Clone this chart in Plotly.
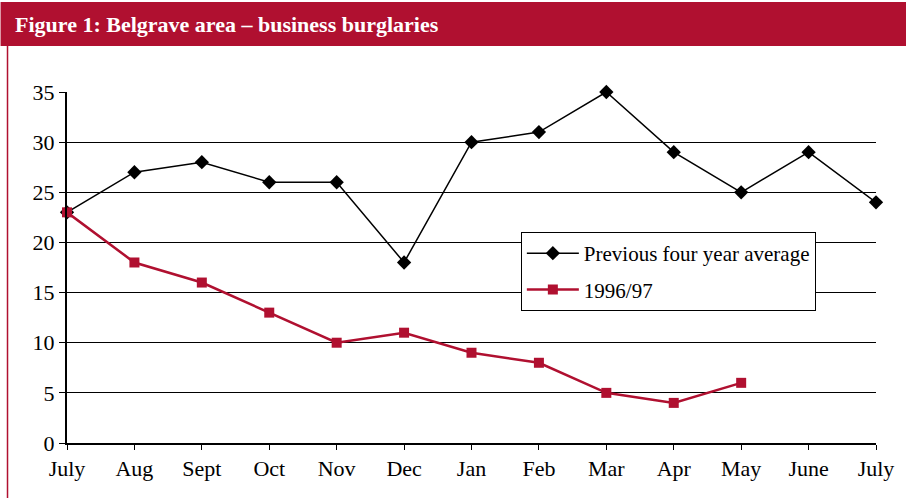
import plotly.graph_objects as go

months = ["July", "Aug", "Sept", "Oct", "Nov", "Dec", "Jan", "Feb", "Mar", "Apr", "May", "June", "July"]
prev_avg = [23, 27, 28, 26, 26, 18, 30, 31, 35, 29, 25, 29, 24]
y9697 = [23, 18, 16, 13, 10, 11, 9, 8, 5, 4, 6]
y_ticks = [0, 5, 10, 15, 20, 25, 30, 35]

RED = "#B01030"
FONT = "Liberation Serif"

xpos = list(range(len(months)))

fig = go.Figure()
fig.add_trace(go.Scatter(
    x=xpos, y=prev_avg, mode="lines+markers", name="Previous four year average",
    legendgroup="a",
    line=dict(color="black", width=1.5),
    marker=dict(symbol="diamond", size=11, color="black"),
    cliponaxis=False,
))
fig.add_trace(go.Scatter(
    x=xpos[:len(y9697)], y=y9697, mode="lines+markers", name="1996/97",
    legendgroup="b",
    line=dict(color=RED, width=2.5),
    marker=dict(symbol="square", size=10, color=RED),
    cliponaxis=False,
))

fig.update_layout(
    width=906, height=498,
    margin=dict(l=67, r=23, t=92, b=55),
    paper_bgcolor="white", plot_bgcolor="white",
    font=dict(family=FONT, size=21, color="black"),
    showlegend=True,
    legend=dict(
        x=0.561, y=0.601, xanchor="left", yanchor="top",
        bgcolor="white", bordercolor="black", borderwidth=1,
        font=dict(family=FONT, size=21, color="black"),
        tracegroupgap=6, itemwidth=52,
    ),
    xaxis=dict(
        range=[0, 12], tickmode="array", tickvals=xpos, ticktext=months,
        showgrid=False, zeroline=False,
        showline=True, linecolor="black", linewidth=2,
        ticks="outside", ticklen=5, tickcolor="black", tickwidth=1,
        tickfont=dict(family=FONT, size=22, color="black"),
    ),
    yaxis=dict(
        range=[0, 35], tickmode="array", tickvals=y_ticks,
        showgrid=True, gridcolor="black", gridwidth=1, zeroline=False,
        showline=True, linecolor="black", linewidth=2,
        ticks="outside", ticklen=6, tickcolor="black", tickwidth=1,
        tickfont=dict(family=FONT, size=22, color="black"),
    ),
    shapes=[
        dict(type="rect", xref="paper", yref="paper", layer="below",
             x0=-67/816, x1=(920-67)/816, y0=(498-55-46)/351, y1=(498-55-2)/351,
             fillcolor=RED, line=dict(width=0)),
        dict(type="line", xref="paper", yref="paper", layer="below",
             x0=-60/816, x1=-60/816, y0=-60/351, y1=(498-55-46)/351,
             line=dict(color=RED, width=1.5)),
    ],
    annotations=[
        dict(text="<b>Figure 1: Belgrave area – business burglaries</b>",
             xref="paper", yref="paper", x=-54/816, y=(498-55-25)/351,
             xanchor="left", yanchor="middle", showarrow=False,
             font=dict(family=FONT, size=22, color="white")),
    ],
)

fig.write_html("out.html")
